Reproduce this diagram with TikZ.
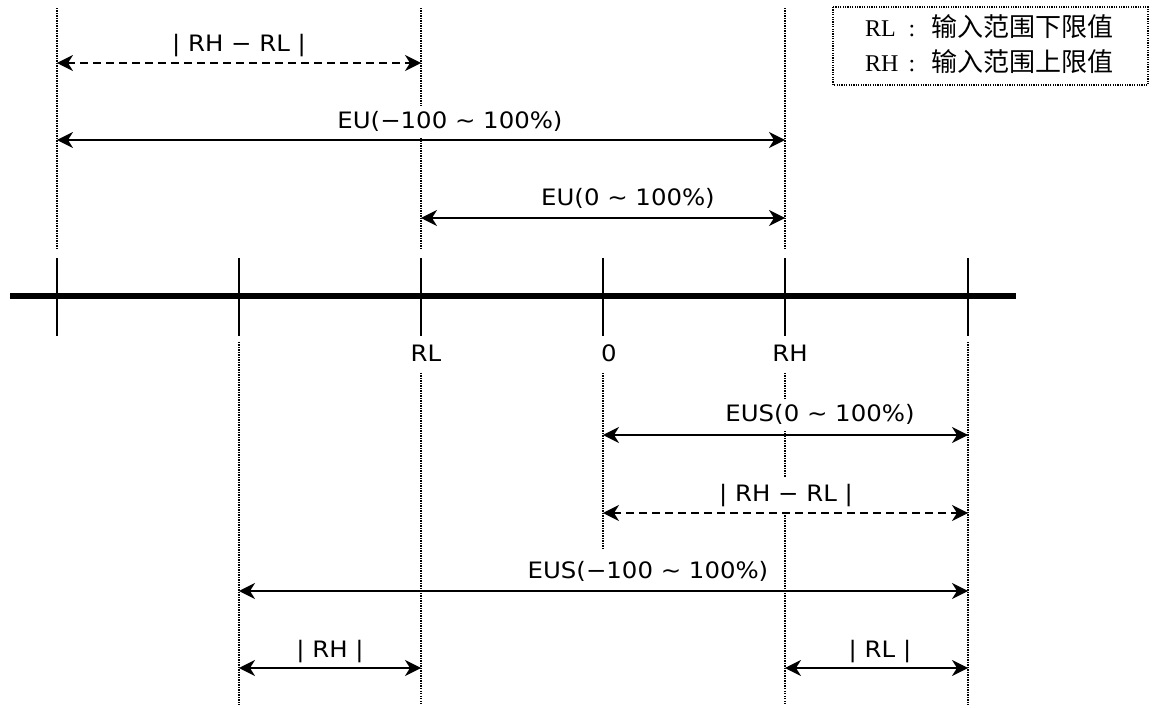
\documentclass[tikz,border=0pt]{standalone}
\usepackage{fontspec}
\setmainfont{DejaVu Sans}[FakeStretch=1.08]
\newfontfamily\cjk{Noto Sans CJK SC}
\newfontfamily\lgserif{Liberation Serif}
\usetikzlibrary{arrows.meta}
\begin{document}
\begin{tikzpicture}[x=1pt,y=-1pt,
  dimline/.style={line width=1.8pt,
    {Stealth[length=16pt,width=16pt,inset=5pt]}-{Stealth[length=16pt,width=16pt,inset=5pt]}},
  dashdim/.style={dimline,dash pattern=on 8pt off 5pt},
  guide/.style={line width=1.2pt,dash pattern=on 1.2pt off 1.3pt},
  lbl/.style={font=\fontsize{22.6}{27}\selectfont,fill=white,inner xsep=2pt,inner ysep=6pt,anchor=base},
  ticklbl/.style={font=\fontsize{22.6}{27}\selectfont,inner sep=0pt,anchor=base},
  tickline/.style={line width=1.6pt},
  axis/.style={line width=6pt},
  legendbox/.style={line width=1.2pt,dash pattern=on 1.2pt off 1.2pt}]
\useasboundingbox (0,0) rectangle (1152,708);

% guide lines
\coordinate (g1a) at (57,8);   \coordinate (g1b) at (57,250);
\coordinate (g2a) at (421,8);  \coordinate (g2b) at (421,250);
\coordinate (g3a) at (785,8);  \coordinate (g3b) at (785,250);
\coordinate (g4a) at (239,342); \coordinate (g4b) at (239,705);
\coordinate (g5a) at (421,373); \coordinate (g5b) at (421,705);
\coordinate (g6a) at (603,373); \coordinate (g6b) at (603,550);
\coordinate (g7a) at (785,373); \coordinate (g7b) at (785,705);
\coordinate (g8a) at (968,342); \coordinate (g8b) at (968,705);
\foreach \g in {g1,g2,g3,g4,g5,g6,g7,g8}{\draw[guide] (\g a) -- (\g b);}

% axis
\coordinate (axL) at (10,296); \coordinate (axR) at (1016,296);
\draw[axis] (axL) -- (axR);
\foreach \i/\x in {1/57,2/239,3/421,4/603,5/785,6/968}{
  \coordinate (tk\i a) at (\x,258); \coordinate (tk\i b) at (\x,336);
  \draw[tickline] (tk\i a) -- (tk\i b);}

\node[ticklbl] (lRL) at (426,362) {RL};
\node[ticklbl] (l0) at (609,362) {0};
\node[ticklbl] (lRH) at (790,362) {RH};

% labels
\node[lbl] (t1) at (239,52)  {| RH − RL |};
\node[lbl] (t2) at (450,129) {EU(−100 ∼ 100\%)};
\node[lbl] (t3) at (628,206) {EU(0 ∼ 100\%)};
\node[lbl] (t4) at (820,422) {EUS(0 ∼ 100\%)};
\node[lbl] (t5) at (786,501) {| RH − RL |};
\node[lbl] (t6) at (648,578) {EUS(−100 ∼ 100\%)};
\node[lbl] (t7) at (330,657) {| RH |};
\node[lbl] (t8) at (880,657) {| RL |};

% dimension arrows
\coordinate (a1l) at (57,63);   \coordinate (a1r) at (421,63);
\coordinate (a2l) at (57,140);  \coordinate (a2r) at (785,140);
\coordinate (a3l) at (421,218); \coordinate (a3r) at (785,218);
\coordinate (a4l) at (603,435); \coordinate (a4r) at (968,435);
\coordinate (a5l) at (603,513); \coordinate (a5r) at (968,513);
\coordinate (a6l) at (239,591); \coordinate (a6r) at (968,591);
\coordinate (a7l) at (239,668); \coordinate (a7r) at (421,668);
\coordinate (a8l) at (785,668); \coordinate (a8r) at (968,668);
\draw[dashdim] (a1l) -- (a1r);
\draw[dimline] (a2l) -- (a2r);
\draw[dimline] (a3l) -- (a3r);
\draw[dimline] (a4l) -- (a4r);
\draw[dashdim] (a5l) -- (a5r);
\draw[dimline] (a6l) -- (a6r);
\draw[dimline] (a7l) -- (a7r);
\draw[dimline] (a8l) -- (a8r);

% legend
\coordinate (lgA) at (833,7); \coordinate (lgB) at (1148,85);
\draw[legendbox] (lgA) rectangle (lgB);
\node[inner sep=0pt,anchor=base west,font=\lgserif\fontsize{24}{28}\selectfont] (k1) at (865,37) {RL};
\node[inner sep=0pt,anchor=base,font=\lgserif\fontsize{24}{28}\selectfont] (c1) at (912,37) {:};
\node[inner sep=0pt,anchor=base west,font=\cjk\fontsize{26}{30}\selectfont] (d1) at (931,37) {输入范围下限值};
\node[inner sep=0pt,anchor=base west,font=\lgserif\fontsize{24}{28}\selectfont] (k2) at (865,72) {RH};
\node[inner sep=0pt,anchor=base,font=\lgserif\fontsize{24}{28}\selectfont] (c2) at (912,72) {:};
\node[inner sep=0pt,anchor=base west,font=\cjk\fontsize{26}{30}\selectfont] (d2) at (931,72) {输入范围上限值};
\end{tikzpicture}
\end{document}
